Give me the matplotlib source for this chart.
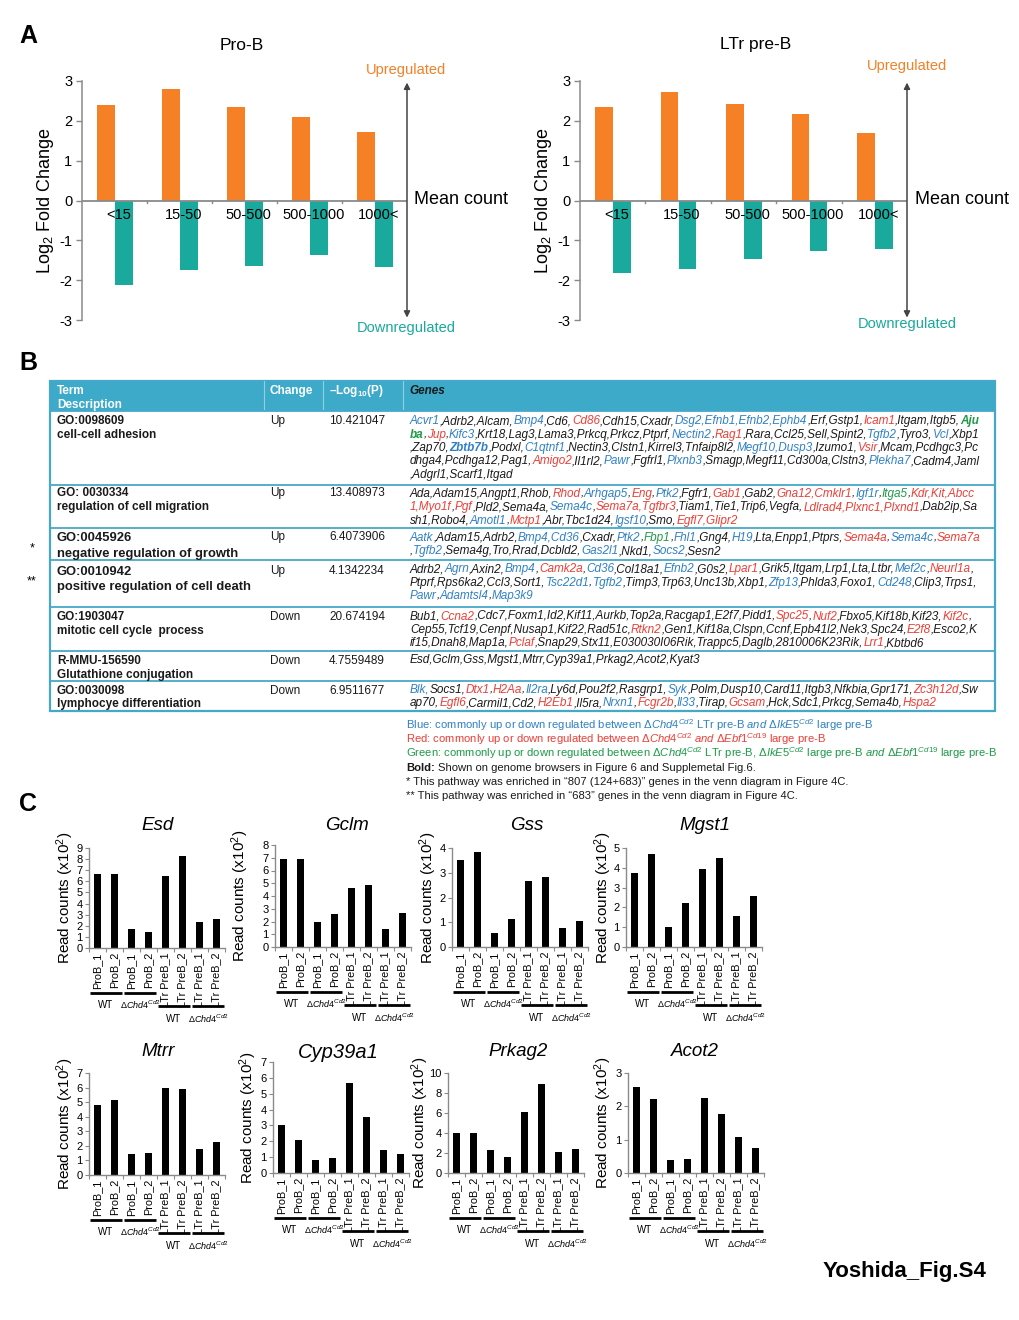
import re
import numpy as np
import matplotlib
matplotlib.use('Agg')
import matplotlib.pyplot as plt
from matplotlib.patches import Rectangle
from matplotlib.font_manager import FontProperties

plt.rcParams['font.family'] = ['Liberation Sans', 'DejaVu Sans']
plt.rcParams['mathtext.fontset'] = 'custom'
plt.rcParams['mathtext.rm'] = 'Liberation Sans'
plt.rcParams['mathtext.it'] = 'Liberation Sans:italic'
plt.rcParams['mathtext.bf'] = 'Liberation Sans:bold'
plt.rcParams['mathtext.sf'] = 'Liberation Sans'
plt.rcParams['axes.unicode_minus'] = False

# ---------------- data: panel A ----------------
count_bins = ['<15', '15-50', '50-500', '500-1000', '1000<']
prob_up = [2.40, 2.79, 2.35, 2.10, 1.71]
prob_down = [-2.12, -1.74, -1.65, -1.37, -1.68]
ltr_up = [2.34, 2.72, 2.43, 2.18, 1.70]
ltr_down = [-1.83, -1.71, -1.46, -1.27, -1.23]

# ---------------- data: panel B ----------------
term_ids = ['GO:0098609', 'GO: 0030334', 'GO:0045926', 'GO:0010942',
            'GO:1903047', 'R-MMU-156590', 'GO:0030098']
term_desc = ['cell-cell adhesion', 'regulation of cell migration',
             'negative regulation of growth', 'positive regulation of cell death',
             'mitotic cell cycle  process', 'Glutathione conjugation',
             'lymphocye differentiation']
term_change = ['Up', 'Up', 'Up', 'Up', 'Down', 'Down', 'Down']
term_logp = ['10.421047', '13.408973', '6.4073906', '4.1342234',
             '20.674194', '4.7559489', '6.9511677']
term_marks = ['', '', '*', '**', '', '', '']

gene_rows = [
    ["[b:Acvr1],Adrb2,Alcam,[b:Bmp4],Cd6,[r:Cd86],Cdh15,Cxadr,[b:Dsg2,Efnb1,Efnb2,Ephb4],Erf,Gstp1,[r:Icam1],Itgam,Itgb5,[G:Aju]",
     "[G:ba],[r:Jup],[b:Kifc3],Krt18,Lag3,Lama3,Prkcq,Prkcz,Ptprf,[b:Nectin2],[r:Rag1],Rara,Ccl25,Sell,Spint2,[b:Tgfb2],Tyro3,[b:Vcl],Xbp1",
     ",Zap70,[B:Zbtb7b],Podxl,[b:C1qtnf1],Nectin3,Clstn1,Kirrel3,Tnfaip8l2,[b:Megf10,Dusp3],Izumo1,[r:Vsir],Mcam,Pcdhgc3,Pc",
     "dhga4,Pcdhga12,Pag1,[r:Amigo2],Il1rl2,[b:Pawr],Fgfrl1,[b:Plxnb3],Smagp,Megf11,Cd300a,Clstn3,[b:Plekha7],Cadm4,Jaml",
     ",Adgrl1,Scarf1,Itgad"],
    ["Ada,Adam15,Angpt1,Rhob,[r:Rhod],[b:Arhgap5],[r:Eng],[b:Ptk2],Fgfr1,[r:Gab1],Gab2,[r:Gna12,Cmklr1],[b:Igf1r],[g:Itga5],[r:Kdr,Kit,Abcc]",
     "[r:1,Myo1f],[r:Pgf],Pld2,Sema4a,[b:Sema4c],[r:Sema7a,Tgfbr3],Tiam1,Tie1,Trip6,Vegfa,[r:Ldlrad4,Plxnc1,Plxnd1],Dab2ip,Sa",
     "sh1,Robo4,[b:Amotl1],[r:Mctp1],Abr,Tbc1d24,[b:Igsf10],Smo,[r:Egfl7,Glipr2]"],
    ["[b:Aatk],Adam15,Adrb2,[b:Bmp4,Cd36],Cxadr,[b:Ptk2],[g:Fbp1],[b:Fhl1],Gng4,[b:H19],Lta,Enpp1,Ptprs,[r:Sema4a],[b:Sema4c],[r:Sema7a]",
     ",[b:Tgfb2],Sema4g,Tro,Rrad,Dcbld2,[b:Gas2l1],Nkd1,[b:Socs2],Sesn2"],
    ["Adrb2,[b:Agrn],Axin2,[b:Bmp4],[r:Camk2a],[b:Cd36],Col18a1,[b:Efnb2],G0s2,[r:Lpar1],Grik5,Itgam,Lrp1,Lta,Ltbr,[b:Mef2c],[r:Neurl1a],",
     "Ptprf,Rps6ka2,Ccl3,Sort1,[b:Tsc22d1],[b:Tgfb2],Timp3,Trp63,Unc13b,Xbp1,[b:Zfp13],Phlda3,Foxo1,[b:Cd248],Clip3,Trps1,",
     "[b:Pawr],[b:Adamtsl4],[b:Map3k9]"],
    ["Bub1,[r:Ccna2],Cdc7,Foxm1,Id2,Kif11,Aurkb,Top2a,Racgap1,E2f7,Pidd1,[r:Spc25],[r:Nuf2],Fbxo5,Kif18b,Kif23,[r:Kif2c],",
     "Cep55,Tcf19,Cenpf,Nusap1,Kif22,Rad51c,[r:Rtkn2],Gen1,Kif18a,Clspn,Ccnf,Epb41l2,Nek3,Spc24,[r:E2f8],Esco2,K",
     "if15,Dnah8,Map1a,[r:Pclaf],Snap29,Stx11,E030030I06Rik,Trappc5,Daglb,2810006K23Rik,[r:Lrr1],Kbtbd6"],
    ["Esd,Gclm,Gss,Mgst1,Mtrr,Cyp39a1,Prkag2,Acot2,Kyat3"],
    ["[b:Blk,]Socs1,[r:Dtx1],[r:H2Aa],[b:Il2ra],Ly6d,Pou2f2,Rasgrp1,[b:Syk],Polm,Dusp10,Card11,Itgb3,Nfkbia,Gpr171,[r:Zc3h12d],Sw",
     "ap70,[r:Egfl6],Carmil1,Cd2,[r:H2Eb1],Il5ra,[b:Nrxn1],[r:Fcgr2b],[b:Il33],Tirap,[r:Gcsam],Hck,Sdc1,Prkcg,Sema4b,[r:Hspa2]"],
]

footnote_lines = [
    "Blue: commonly up or down regulated between \u0394$\\mathit{Chd4}^{\\mathit{Cd2}}$ LTr pre-B $\\mathit{and}$ \u0394$\\mathit{IkE5}^{\\mathit{Cd2}}$ large pre-B",
    "Red: commonly up or down regulated between \u0394$\\mathit{Chd4}^{\\mathit{Cd2}}$ $\\mathit{and}$ \u0394$\\mathit{Ebf1}^{\\mathit{Cd19}}$ large pre-B",
    "Green: commonly up or down regulated between \u0394$\\mathit{Chd4}^{\\mathit{Cd2}}$ LTr pre-B, \u0394$\\mathit{IkE5}^{\\mathit{Cd2}}$ large pre-B $\\mathit{and}$ \u0394$\\mathit{Ebf1}^{\\mathit{Cd19}}$ large pre-B",
    "Shown on genome browsers in Figure 6 and Supplemetal Fig.6.",
    "* This pathway was enriched in \u201c807 (124+683)\u201d genes in the venn diagram in Figure 4C.",
    "** This pathway was enriched in \u201c683\u201d genes in the venn diagram in Figure 4C.",
]

# ---------------- data: panel C ----------------
sample_labels = ['ProB_1', 'ProB_2', 'ProB_1', 'ProB_2',
                 'LTr PreB_1', 'LTr PreB_2', 'LTr PreB_1', 'LTr PreB_2']
gene_names_c = ['Esd', 'Gclm', 'Gss', 'Mgst1', 'Mtrr', 'Cyp39a1', 'Prkag2', 'Acot2']
esd = [6.7, 6.7, 1.75, 1.4, 6.5, 8.3, 2.3, 2.6]
gclm = [6.9, 6.9, 2.0, 2.6, 4.6, 4.9, 1.4, 2.7]
gss = [3.52, 3.82, 0.57, 1.15, 2.66, 2.84, 0.78, 1.06]
mgst1 = [3.72, 4.7, 1.0, 2.2, 3.92, 4.5, 1.57, 2.6]
mtrr = [4.82, 5.18, 1.44, 1.5, 6.0, 5.93, 1.8, 2.25]
cyp39a1 = [3.05, 2.1, 0.82, 0.92, 5.7, 3.55, 1.42, 1.2]
prkag2 = [4.0, 4.0, 2.35, 1.6, 6.1, 8.9, 2.1, 2.45]
acot2 = [2.57, 2.22, 0.39, 0.42, 2.25, 1.78, 1.09, 0.74]
counts_c = [esd, gclm, gss, mgst1, mtrr, cyp39a1, prkag2, acot2]
c_ymax = [9, 8, 4, 5, 7, 7, 10, 3]
c_ystep = [1, 1, 1, 1, 1, 1, 2, 1]
group_labels = ['WT', '\u0394$\\mathit{Chd4}^{\\mathit{Cd2}}$']

# ---------------- style ----------------
ORANGE = '#F58025'
TEAL = '#19A99D'
AXC = '#8a8a8a'
BLUE = '#2F80C6'
RED = '#EE3E36'
GREEN = '#1E9A48'
INK = '#1a1a1a'
HDR = '#3DAACA'
LINE = '#45A8C8'

W, H = 1020, 1320
fig = plt.figure(figsize=(W / 100, H / 100), dpi=100)
ov = fig.add_axes([0, 0, 1, 1])
ov.set_xlim(0, W)
ov.set_ylim(H, 0)
ov.axis('off')


def rect(x0, y0, x1, y1):
    return [x0 / W, 1 - y1 / H, (x1 - x0) / W, (y1 - y0) / H]


renderer = fig.canvas.get_renderer()


def advance(s, fp):
    a = renderer.get_text_width_height_descent('X' + s + 'X', fp, ismath=False)[0]
    b = renderer.get_text_width_height_descent('XX', fp, ismath=False)[0]
    return a - b


def rich_line(x, y, segs, size):
    for s, color, style, weight in segs:
        fp = FontProperties(family='Liberation Sans', style=style, weight=weight, size=size)
        ov.text(x, y, s, fontproperties=fp, color=color, ha='left', va='baseline')
        x += advance(s, fp)


STY = {'k': (INK, 'italic', 'normal'), 'b': (BLUE, 'italic', 'normal'),
       'B': (BLUE, 'italic', 'bold'), 'r': (RED, 'italic', 'normal'),
       'g': (GREEN, 'italic', 'normal'), 'G': (GREEN, 'italic', 'bold')}


def parse(line):
    parts = re.split(r'\[([bBrgG]):([^\]]*)\]', line)
    segs = []
    for i in range(0, len(parts), 3):
        if parts[i]:
            segs.append((parts[i],) + STY['k'])
        if i + 2 < len(parts):
            segs.append((parts[i + 2],) + STY[parts[i + 1]])
    return segs


def baseline(center, size):
    return center + 0.358 * size * 100 / 72


# ---------------- panel letters ----------------
for letter, (lx, ly) in zip('ABC', [(19, 36), (19, 363), (19, 804)]):
    ov.text(lx, ly, letter, fontsize=18, weight='bold', va='center', ha='left')

# ---------------- panel A ----------------
def draw_panelA(x0, x1, up, down, title, tx, arrow_lbl_x, mean_x, up_y, down_y):
    ax = fig.add_axes(rect(x0, 81, x1, 320))
    ax.set_facecolor('none')
    idx = np.arange(len(count_bins))
    ax.bar(idx + 0.37, up, width=0.27, color=ORANGE, zorder=2)
    ax.bar(idx + 0.645, down, width=0.27, color=TEAL, zorder=2)
    ax.set_xlim(0, 5)
    ax.set_ylim(-3, 3)
    ax.axhline(0, color=AXC, lw=1.3, zorder=3)
    for k in range(1, 5):
        ax.plot([k, k], [0, -0.07], color=AXC, lw=1, zorder=3)
    for k, lab in enumerate(count_bins):
        ax.text(k + 0.56, -0.36, lab, ha='center', va='center', fontsize=10.5, zorder=5)
    ax.set_xticks([])
    ax.set_yticks(range(-3, 4))
    ax.tick_params(axis='y', labelsize=10.5, length=4, color=AXC, width=1, pad=3)
    for s in ['top', 'right', 'bottom']:
        ax.spines[s].set_visible(False)
    ax.spines['left'].set_color(AXC)
    ax.spines['left'].set_linewidth(1.1)
    ax.set_ylabel('Log$_\\mathrm{2}$ Fold Change', fontsize=13)
    ax.yaxis.set_label_coords(-26 / (x1 - x0), 0.5)
    ax.annotate('', xy=(5, 2.96), xytext=(5, -2.94),
                arrowprops=dict(arrowstyle='<|-|>', color='#444444', lw=1.1,
                                mutation_scale=9, shrinkA=0, shrinkB=0),
                annotation_clip=False)
    ov.text(tx, 45, title, fontsize=12.5, ha='center', va='center')
    ov.text(arrow_lbl_x, up_y, 'Upregulated', color=ORANGE, fontsize=10.5, ha='center', va='center')
    ov.text(arrow_lbl_x, down_y, 'Downregulated', color=TEAL, fontsize=10.5, ha='center', va='center')
    ov.text(mean_x, 200, 'Mean count', fontsize=13, ha='left', va='center')


draw_panelA(82, 407, prob_up, prob_down, 'Pro-B', 242, 406, 414, 70, 328)
draw_panelA(580, 907, ltr_up, ltr_down, 'LTr pre-B', 756, 907, 915, 66, 324)

# ---------------- panel B (table) ----------------
T_L, T_R, T_TOP, T_BOT = 50, 995, 381, 711
HDR_BOT = 411
row_tops = [411, 485, 528, 560, 607, 651, 681]
ov.add_patch(Rectangle((T_L, T_TOP), T_R - T_L, HDR_BOT - T_TOP, facecolor=HDR, edgecolor='none'))
for xd in [264, 323, 403]:
    ov.plot([xd, xd], [T_TOP, HDR_BOT], color='#8fd0e3', lw=0.8)
for yt in row_tops:
    ov.plot([T_L, T_R], [yt, yt], color=LINE, lw=1.3)
ov.add_patch(Rectangle((T_L, T_TOP), T_R - T_L, T_BOT - T_TOP, fill=False, edgecolor=LINE, lw=1.6))

HS = 8.5
ov.text(57, baseline(390, HS), 'Term', color='white', weight='bold', fontsize=HS, va='baseline')
ov.text(57, baseline(404, HS), 'Description', color='white', weight='bold', fontsize=HS, va='baseline')
ov.text(270, baseline(390, HS), 'Change', color='white', weight='bold', fontsize=HS, va='baseline')
ov.text(329, baseline(390, HS), '\u2013Log$_{\\mathbf{10}}$(P)', color='white', weight='bold', fontsize=HS, va='baseline')
ov.text(409, baseline(390, HS), 'Genes', color=INK, weight='bold', style='italic', fontsize=HS, va='baseline')

term_centers = [(420, 434), (492, 506), (536, 552), (570, 585), (616, 630), (660, 674), (690, 703)]
term_sizes = [8.5, 8.5, 9.4, 9.4, 8.5, 8.5, 8.5]
gene_base = [424.3, 497, 540.7, 572.3, 619.5, 663.5, 693]
GSTEP = 13.35
GS = 8.5
for i in range(len(term_ids)):
    c1, c2 = term_centers[i]
    sz = term_sizes[i]
    ov.text(57, baseline(c1, sz), term_ids[i], weight='bold', fontsize=sz, va='baseline', color=INK)
    ov.text(57, baseline(c2, sz), term_desc[i], weight='bold', fontsize=sz, va='baseline', color=INK)
    ov.text(270, baseline(c1, 8.5), term_change[i], fontsize=8.5, va='baseline', color=INK)
    ov.text(329, baseline(c1, 8.5), term_logp[i], fontsize=8.5, va='baseline', color=INK)
    if term_marks[i]:
        ov.text(32, c2 - 4, term_marks[i], fontsize=9, ha='center', va='center')
    for j, line in enumerate(gene_rows[i]):
        rich_line(410, gene_base[i] + j * GSTEP, parse(line), GS)

FS = 8.15
fn_y = [725, 739, 753, 767, 781, 795]
fn_colors = [BLUE, RED, GREEN, INK, INK, INK]
for k, (txt, col) in enumerate(zip(footnote_lines, fn_colors)):
    yb = baseline(fn_y[k], FS)
    if k == 3:
        fpb = FontProperties(family='Liberation Sans', weight='bold', size=FS)
        ov.text(406, yb, 'Bold:', fontproperties=fpb, color=col, va='baseline')
        ov.text(406 + advance('Bold: ', fpb), yb, txt, fontsize=FS, color=col, va='baseline')
    else:
        ov.text(406, yb, txt, fontsize=FS, color=col, va='baseline')

# ---------------- panel C ----------------
C_STEP = 17
c_layout = [(89, 848, 948), (275, 845, 947), (452, 848, 947), (626, 848, 947),
            (89, 1073, 1175), (273, 1062, 1173), (448, 1073, 1173), (628, 1073, 1173)]
c_title_xy = [(158, 825), (347, 825), (527, 825), (705, 825),
              (158, 1052), (338, 1052), (518, 1052), (695, 1052)]
c_title_size = [13.5, 13.5, 13.5, 13.5, 13.5, 14.5, 13.5, 13.5]
c_label_off = [13, 24, 12.5, 12.5, 13, 14, 17, 14]

for k in range(8):
    x0, ytop, ybot = c_layout[k]
    ax = fig.add_axes(rect(x0, ytop, x0 + 8 * C_STEP, ybot))
    ax.set_facecolor('none')
    pos = np.arange(len(sample_labels)) + 0.5
    ax.bar(pos, counts_c[k], width=0.45, color='black')
    ax.set_xlim(0, 8)
    ax.set_ylim(0, c_ymax[k])
    ax.set_yticks(np.arange(0, c_ymax[k] + 0.01, c_ystep[k]))
    ax.tick_params(axis='y', labelsize=8, length=3, width=0.8, color=AXC, pad=1.5)
    ax.set_xticks(pos)
    ax.set_xticklabels(sample_labels, rotation=90, fontsize=7.8)
    ax.tick_params(axis='x', which='major', length=0, pad=3)
    ax.set_xticks(np.arange(9), minor=True)
    ax.tick_params(axis='x', which='minor', length=3, color=AXC, width=0.8)
    for s in ['top', 'right']:
        ax.spines[s].set_visible(False)
    for s in ['left', 'bottom']:
        ax.spines[s].set_color(AXC)
        ax.spines[s].set_linewidth(1.0)
    ax.set_ylabel('Read counts (x10$^\\mathrm{2}$)', fontsize=11)
    ax.yaxis.set_label_coords(-c_label_off[k] / (8 * C_STEP), 0.5)
    tx, ty = c_title_xy[k]
    ov.text(tx, ty, gene_names_c[k], style='italic', fontsize=c_title_size[k], ha='center', va='center')
    cx = [x0 + (i + 0.5) * C_STEP for i in range(8)]
    groups = [(0, 1, 45, 57), (2, 3, 45, 57), (4, 5, 58, 71), (6, 7, 58, 71)]
    for g, (i0, i1, dl, dt) in enumerate(groups):
        ov.plot([cx[i0] - 7.5, cx[i1] + 7.5], [ybot + dl, ybot + dl], color='black', lw=2,
                solid_capstyle='butt')
        ov.text((cx[i0] + cx[i1]) / 2, ybot + dt, group_labels[g % 2], ha='center', va='center',
                fontsize=7 if g % 2 == 0 else 6.5)

ov.text(905, 1272, 'Yoshida_Fig.S4', fontsize=16, weight='bold', ha='center', va='center')

fig.savefig('out.png', dpi=100)
